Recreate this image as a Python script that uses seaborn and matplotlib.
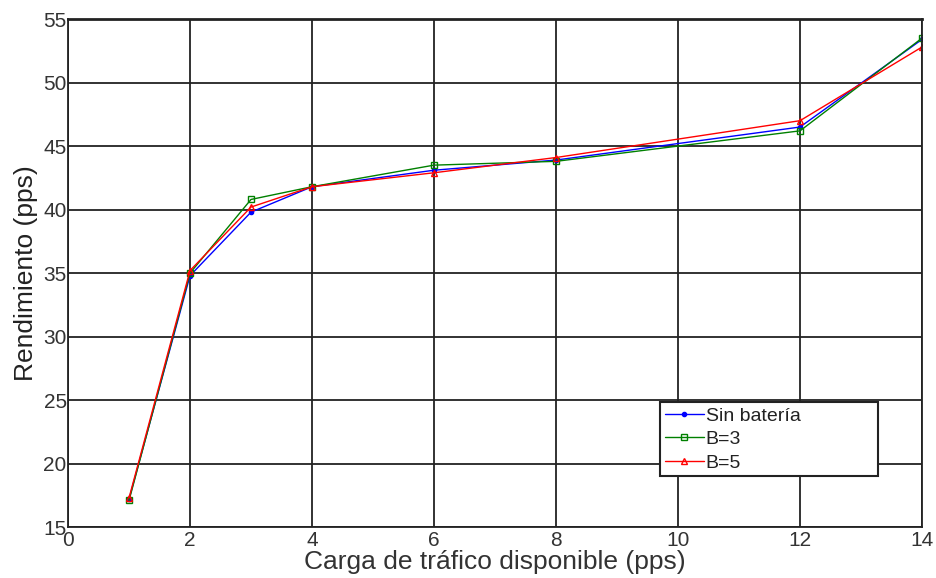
import matplotlib
matplotlib.use("Agg")
import matplotlib.pyplot as plt
import seaborn as sns
import pandas as pd

carga = [1, 2, 3, 4, 6, 8, 12, 14]
sin_bateria = [17.2, 34.8, 39.8, 41.8, 43.1, 43.9, 46.5, 53.4]
b3 = [17.1, 35.0, 40.8, 41.8, 43.5, 43.8, 46.2, 53.5]
b5 = [17.3, 35.2, 40.2, 41.8, 42.9, 44.1, 47.0, 52.8]
series_names = ["Sin batería", "B=3", "B=5"]
x_ticks = [0, 2, 4, 6, 8, 10, 12, 14]
y_ticks = [15, 20, 25, 30, 35, 40, 45, 50, 55]

sns.set_theme(style="white")
plt.rcParams['font.family'] = ['Liberation Sans', 'DejaVu Sans']

fig = plt.figure(figsize=(9.37, 5.78), dpi=100)
ax = fig.add_axes([0.0726, 0.088, 0.9114, 0.879])

styles = [
    (sin_bateria, "blue", "o", "blue", 3),
    (b3, "green", "s", "none", 5),
    (b5, "red", "^", "none", 5),
]
for (vals, col, mk, mfc, ms), name in zip(styles, series_names):
    df = pd.DataFrame({"x": carga, "y": vals})
    sns.lineplot(data=df, x="x", y="y", ax=ax, color=col, marker=mk,
                 markersize=ms, markerfacecolor=mfc, markeredgecolor=col,
                 markeredgewidth=1, linewidth=1, label=name)

ax.set_xlim(0, 14)
ax.set_ylim(15, 55)
ax.set_xticks(x_ticks)
ax.set_yticks(y_ticks)
ax.grid(True, color="#222222", linewidth=1.3)
for s in ax.spines.values():
    s.set_color("#222222")
    s.set_linewidth(1.3)
ax.spines['top'].set_linewidth(2)
ax.tick_params(axis='both', labelsize=15, colors="#333333", length=3, direction='in')
ax.tick_params(axis='y', pad=1)
ax.tick_params(axis='x', pad=3)
ax.set_xlabel("Carga de tráfico disponible (pps)", fontsize=19, color="#333333", labelpad=0)
ax.set_ylabel("Rendimiento (pps)", fontsize=19, color="#222222", labelpad=4)

leg = ax.legend(loc="upper left", bbox_to_anchor=(0.693, 0.106, 0.255, 0.140),
                mode="expand", frameon=True,
                fancybox=False, edgecolor="#222222", fontsize=14,
                handlelength=2.0, handletextpad=0.1, borderpad=0.25,
                labelspacing=0.3, borderaxespad=0)
leg.get_frame().set_linewidth(1.5)
leg.get_frame().set_facecolor("white")
leg.get_frame().set_alpha(1)
for t in leg.get_texts():
    t.set_color("#222222")

fig.savefig("out.png", dpi=100)
